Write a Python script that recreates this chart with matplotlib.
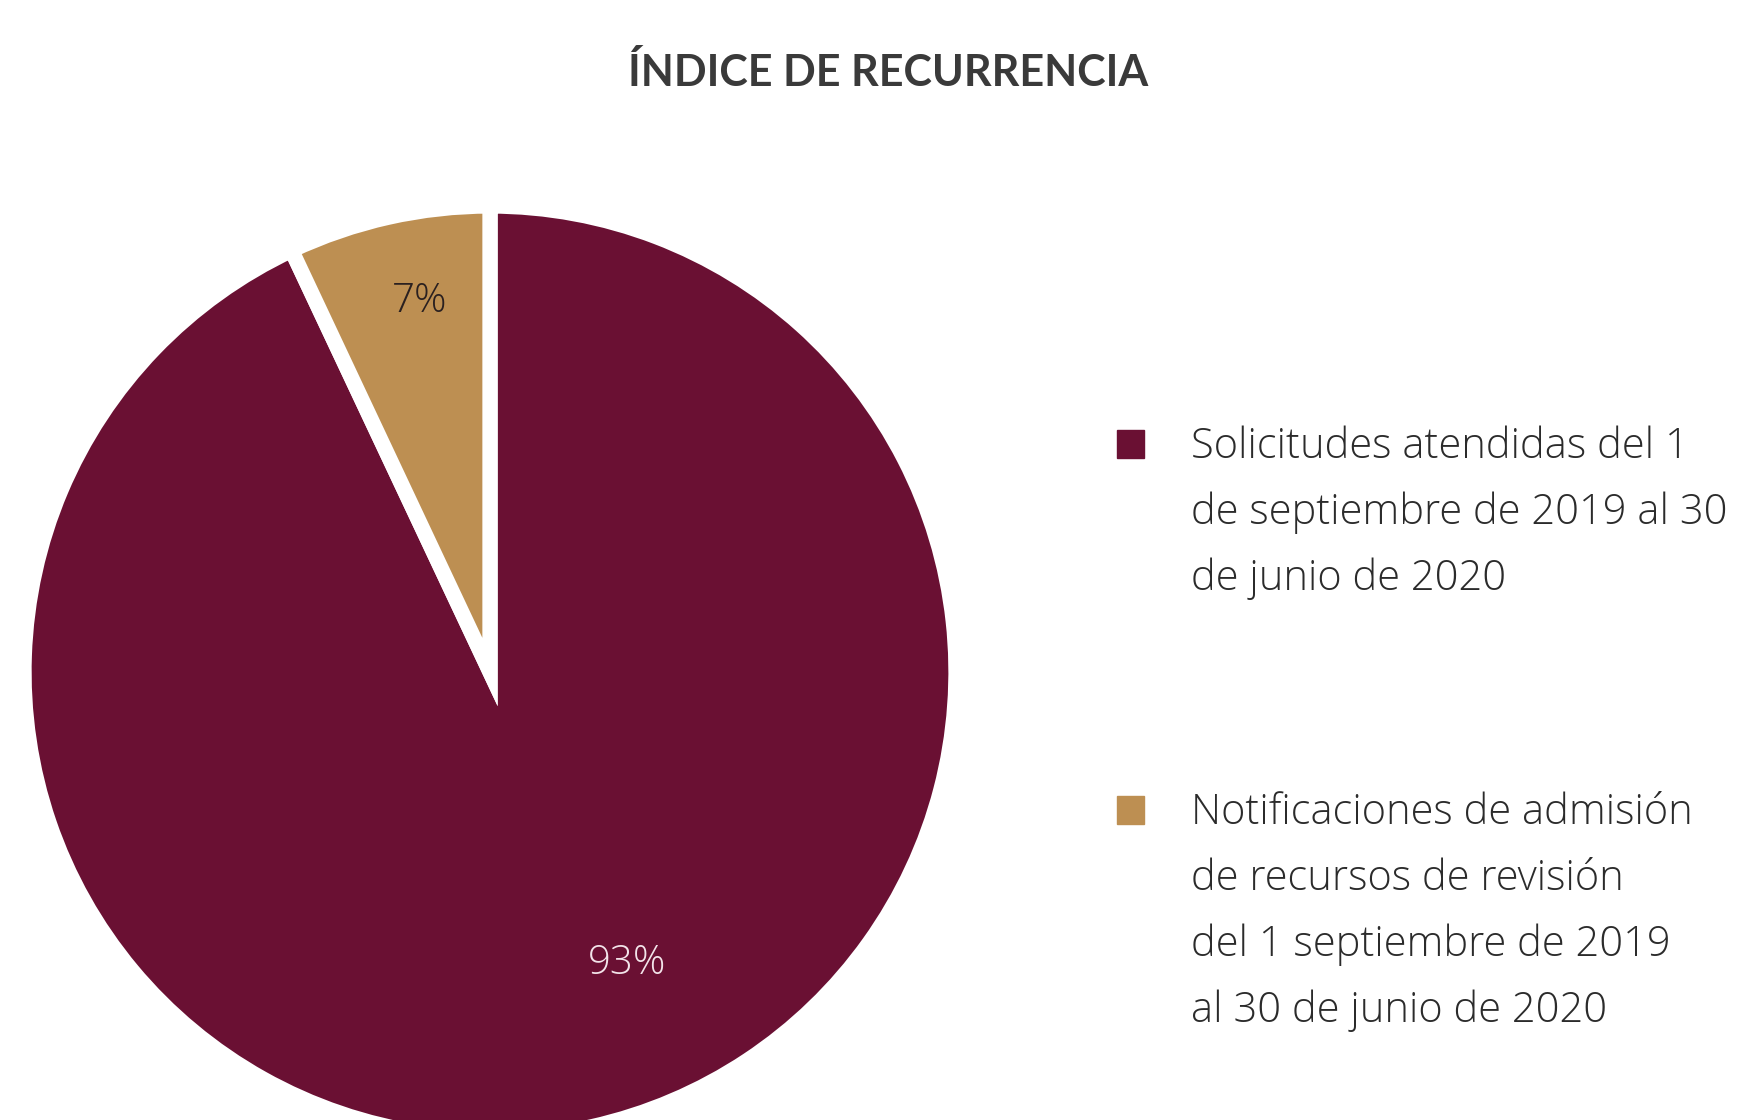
import matplotlib.pyplot as plt
from matplotlib.patches import Rectangle

# data
categories = [
    "Solicitudes atendidas del 1\nde septiembre de 2019 al 30\nde junio de 2020",
    "Notificaciones de admisión\nde recursos de revisión\ndel 1 septiembre de 2019\nal 30 de junio de 2020",
]
values = [93, 7]
pct_labels = ["93%", "7%"]
colors = ["#6a1033", "#bd8f52"]
title = "ÍNDICE DE RECURRENCIA"

W, H = 1742, 1120
fig = plt.figure(figsize=(W / 100, H / 100), dpi=100)
fig.patch.set_facecolor("white")

# pie axes: centre ~ (490, 672) px, radius ~466 px
cx, cy, r = 490, 672, 466
ax = fig.add_axes([(cx - r) / W, (H - cy - r) / H, 2 * r / W, 2 * r / H])
wedges, _ = ax.pie(values, colors=colors, startangle=90, counterclock=False,
                   wedgeprops=dict(edgecolor="white", linewidth=11))
ax.set_xlim(-1, 1)
ax.set_ylim(-1, 1)
ax.set_aspect("equal")
ax.axis("off")

# percentage labels
ax.text(0.295, -0.625, pct_labels[0], color="#f3e4ea", fontsize=29,
        family="Open Sans", fontweight="light", ha="center", va="center")
ax.text(-0.15, 0.795, pct_labels[1], color="#2a2020", fontsize=29,
        family="Open Sans", fontweight="light", ha="center", va="center")

# title
fig.text(888 / W, 1 - 72 / H, title, ha="center", va="center",
         fontsize=31, fontweight="bold", family="Lato", color="#3a3a3a")

# legend
legend_tops = [444, 810]
line_gap = 66
for lab, col, y0 in zip(categories, colors, legend_tops):
    fig.patches.append(Rectangle((1117 / W, 1 - (y0 + 14) / H), 27 / W, 28 / H,
                                 transform=fig.transFigure, color=col))
    for i, line in enumerate(lab.split("\n")):
        fig.text(1191 / W, 1 - (y0 + 14 + i * line_gap) / H, line,
                 ha="left", va="baseline", fontsize=30, family="Open Sans",
                 fontweight="light", color="#2b2b2b")

fig.savefig("out.png", dpi=100, facecolor="white")
